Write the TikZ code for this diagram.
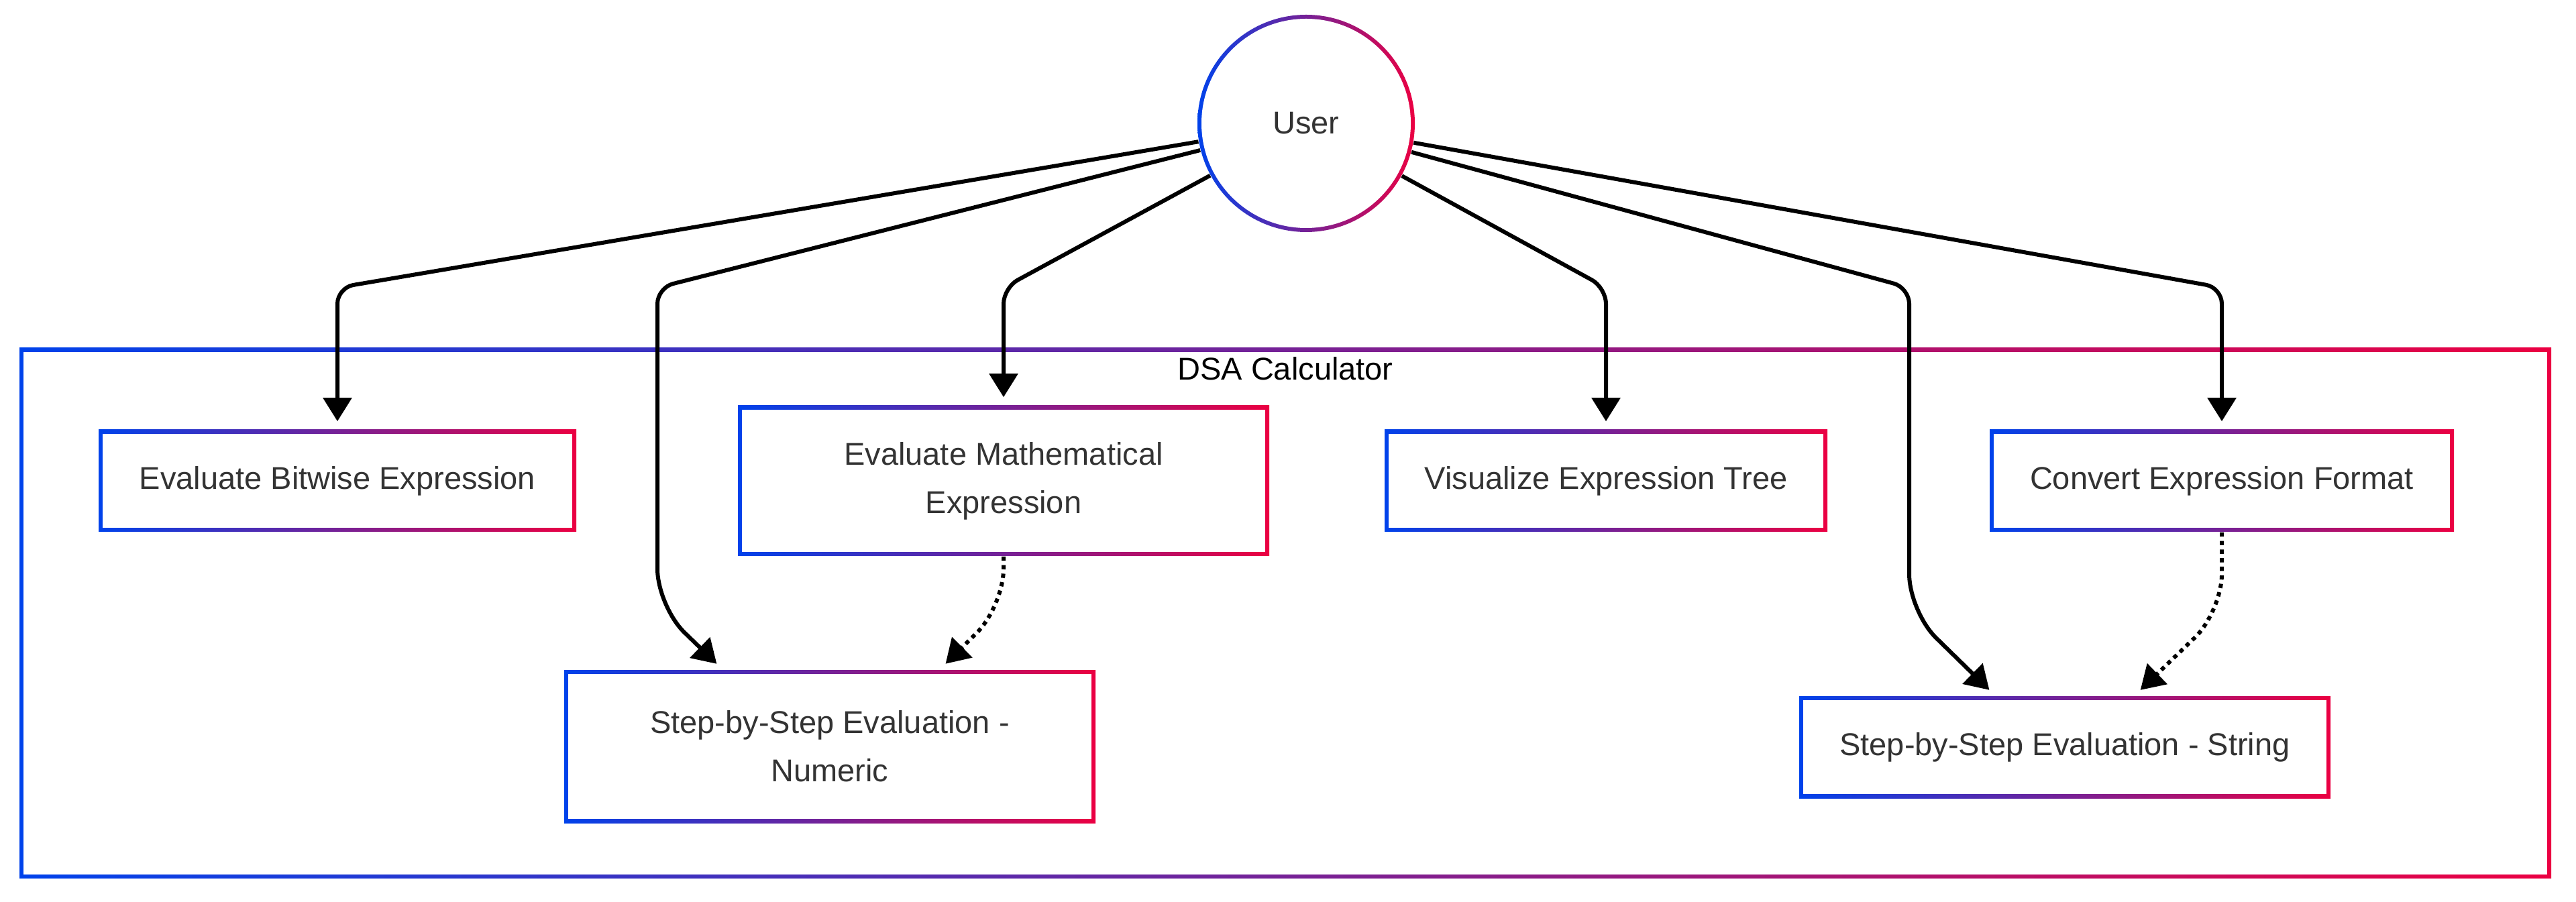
\documentclass[tikz,border=0pt]{standalone}
\usepackage{fontspec}
\setmainfont{Liberation Sans}
\usetikzlibrary{arrows.meta,positioning}

\definecolor{gblue}{RGB}{0,66,235}
\definecolor{gred}{RGB}{235,0,66}
\definecolor{txt}{RGB}{51,51,51}

\begin{document}
\begin{tikzpicture}[x=1pt, y=-1pt,
  every node/.style={font=\fontsize{11.75}{18}\selectfont, text=txt},
  gbox/.style={rectangle, left color=gblue, right color=gred, inner sep=0pt, align=center,
    path picture={\fill[white] ([shift={(1.5pt,-1.5pt)}]path picture bounding box.north west)
      rectangle ([shift={(-1.5pt,1.5pt)}]path picture bounding box.south east);}},
  flow/.style={line width=1.5pt, rounded corners=6pt, shorten >=3pt,
    -{Triangle[length=8.75pt,width=10.5pt]}},
  dotflow/.style={flow, rounded corners=14pt, dash pattern=on 1.6pt off 1.6pt}]
  \useasboundingbox (0,0) rectangle (960,336.25);

  % กรอบ DSA Calculator
  \node[gbox, minimum width=943.5pt, minimum height=197.75pt] (clus) at (479,228.6) {};
  \node[below=3.5pt of clus.north, inner sep=0pt, text=black] (clustitle) {DSA Calculator};

  % ผู้ใช้
  \node[circle, minimum size=81pt, inner sep=0pt, left color=gblue, right color=gred,
    path picture={\fill[white] (path picture bounding box.center) circle (39pt);}]
    (user) at (486.75,46) {User};

  % กล่องงาน
  \node[gbox, minimum width=178pt, minimum height=38pt] (bitwise) at (125.75,179.25) {Evaluate Bitwise Expression};
  \node[gbox, minimum width=198pt, minimum height=56pt] (math) at (374,179.25) {Evaluate Mathematical\\Expression};
  \node[gbox, minimum width=165pt, minimum height=38pt] (visual) at (598.5,179.25) {Visualize Expression Tree};
  \node[gbox, minimum width=173pt, minimum height=38pt] (convert) at (828,179.25) {Convert Expression Format};
  \node[gbox, minimum width=198pt, minimum height=57pt] (numeric) at (309.25,278.25) {Step-by-Step Evaluation -\\Numeric};
  \node[gbox, minimum width=198pt, minimum height=38pt] (string) at (769.5,278.5) {Step-by-Step Evaluation - String};

  % ลูกศร
  \coordinate (bend) at (0,107.25);
  \coordinate (laneN) at (245,226);
  \coordinate (laneS) at (711.5,228);
  \draw[flow] (user) -- (bitwise |- bend) -- (bitwise);
  \draw[flow] (user) -- (laneN |- bend) [rounded corners=14pt] -- (laneN) -- ([xshift=-40pt]numeric.north);
  \draw[flow] (user) -- (math |- bend) -- (math);
  \draw[flow] (user) -- (visual |- bend) -- (visual);
  \draw[flow] (user) -- (laneS |- bend) [rounded corners=14pt] -- (laneS) -- ([xshift=-26pt]string.north);
  \draw[flow] (user) -- (convert |- bend) -- (convert);

  % เส้นประ
  \draw[dotflow] (math.south) -- (math.south |- laneN) -- ([xshift=41pt]numeric.north);
  \draw[dotflow] (convert.south) -- (convert.south |- laneS) -- ([xshift=26pt]string.north);
\end{tikzpicture}
\end{document}
